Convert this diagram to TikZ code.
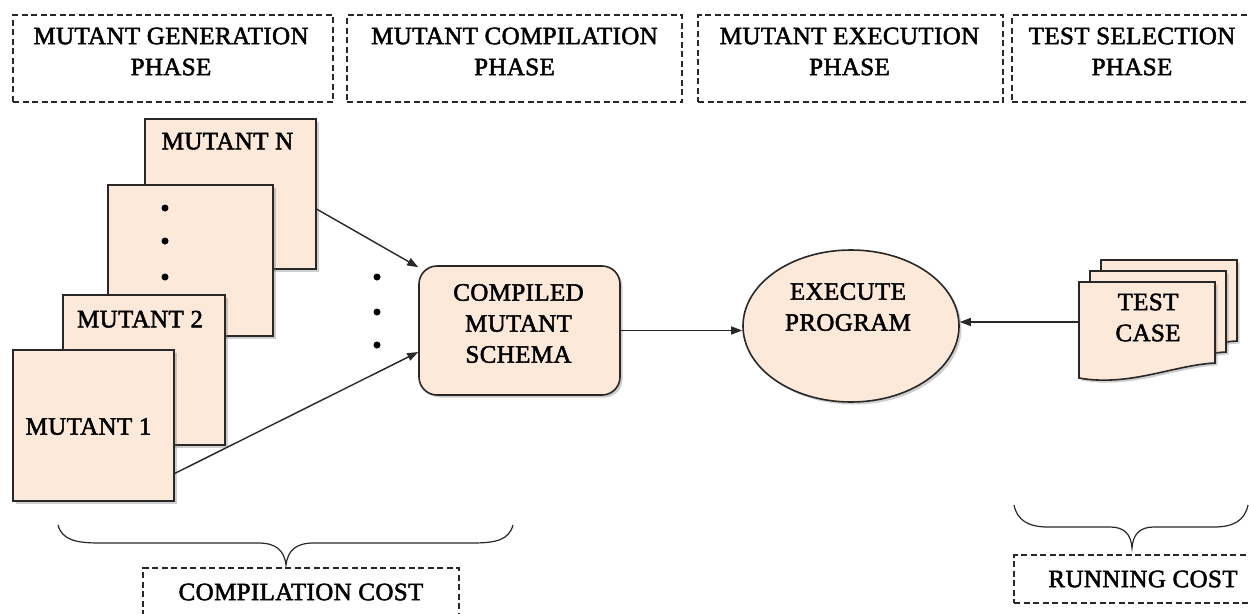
\documentclass[tikz,border=0pt]{standalone}
\usepackage{fontspec}
\setmainfont{Liberation Serif}
\newfontfamily\labelfont{Liberation Serif}[FakeBold=2, LetterSpace=1.5]
\usetikzlibrary{arrows.meta,shadows,calc,shapes.geometric}
\definecolor{peach}{RGB}{253,233,217}
\definecolor{edge}{RGB}{40,40,40}

% one paper of the "test case" stack; #1,#2 = top-left corner
\newcommand{\docsheet}[2]{%
  \path[card] (#1,#2) -- ++(136,0) -- ++(0,81)
    .. controls ++(-41,2) and ($(#1,#2)+(50,105)$) .. ($(#1,#2)+(0,96)$) -- cycle;}

\begin{document}
\begin{tikzpicture}[x=1pt,y=-1pt,
  every node/.style={font=\labelfont\fontsize{25}{31}\selectfont, text=black, align=center},
  phase/.style={draw=edge, line width=1.1pt, dash pattern=on 6pt off 3.5pt, inner sep=0pt},
  shade/.style={drop shadow={shadow xshift=2.5pt, shadow yshift=-2.5pt, opacity=0.35, fill=black!55}},
  card/.style={draw=edge, fill=peach, line width=1.6pt, inner sep=0pt, shade},
  link/.style={draw=edge, line width=1.4pt, -{Triangle[length=11pt,width=8pt]}},
  dot/.style={circle, fill=black, inner sep=0pt, minimum size=7pt},
  brace/.style={draw=edge, line width=1.2pt},
]
\useasboundingbox (0,0) rectangle (1249,613);
\fill[white] (0,0) rectangle (1249,613);

% phase headers
\node[phase, minimum width=320pt, minimum height=87pt] (p1) at (173,58.5) {};
\node[phase, minimum width=335pt, minimum height=87pt] (p2) at (514.5,58.5) {};
\node[phase, minimum width=305pt, minimum height=87pt] (p3) at (850.5,58.5) {};
\node[phase, minimum width=240pt, minimum height=87pt] (p4) at (1132,58.5) {};
\node (t1) at ($(p1.center)+(-2,-7)$) {MUTANT GENERATION\\PHASE};
\node (t2) at ($(p2.center)+(0,-7)$) {MUTANT COMPILATION\\PHASE};
\node (t3) at ($(p3.center)+(-1,-7)$) {MUTANT EXECUTION\\PHASE};
\node (t4) at ($(p4.center)+(0,-7)$) {TEST SELECTION\\PHASE};

% stack of mutants, back to front
\node[card, minimum width=171pt, minimum height=150pt] (mN) at (230.5,194) {};
\node (tN) at ($(mN.north)+(-3,23)$) {MUTANT N};
\node[card, minimum width=165pt, minimum height=151pt] (mD) at (190.5,260.5) {};
\node[dot] (d1) at (165,208) {};
\node[dot] (d2) at (165,241) {};
\node[dot] (d3) at (165,277) {};
\node[card, minimum width=162pt, minimum height=150pt] (m2) at (144,370) {};
\node (t2m) at ($(m2.north)+(-4,25)$) {MUTANT 2};
\node[card, minimum width=161pt, minimum height=151pt] (m1) at (93.5,425.5) {};
\node (t1m) at ($(m1.center)+(-5,1)$) {MUTANT 1};

% gap between the two arrows
\node[dot] (g1) at (377,277) {};
\node[dot] (g2) at (377,312) {};
\node[dot] (g3) at (377,345) {};

% compiled schema
\node[card, rounded corners=18pt, minimum width=201pt, minimum height=129pt] (schema) at (519.5,330.5) {};
\node (ts) at ($(schema.center)+(-1,-7)$) {COMPILED\\MUTANT\\SCHEMA};

% execution
\node[card, ellipse, minimum width=216pt, minimum height=152pt] (exec) at (851,326) {};
\node (te) at ($(exec.center)+(-3,-19)$) {EXECUTE\\PROGRAM};

% test cases
\docsheet{1101}{260}
\docsheet{1090}{271}
\docsheet{1079}{282}
\node (tc) at (1148,317.5) {TEST\\CASE};
\coordinate (tcin) at (1079,322);

% connectors
\draw[link] ($(mN.north east)!0.6!(mN.south east)$) -- ($(schema.west)!0.97!(schema.north west)$);
\draw[link] ($(m1.north east)!0.814!(m1.south east)$) -- ($(schema.west)!0.33!(schema.south west)$);
\draw[link] (schema.east) -- (schema.east -| exec.west);
\draw[link] (tcin) -- (tcin -| exec.east);

% cost braces
\draw[brace] (58,525) .. controls (62,540) and (76,543) .. (100,543) -- (258,543)
  .. controls (276,543) and (284,550) .. (286,565)
  .. controls (288,550) and (296,543) .. (314,543) -- (472,543)
  .. controls (496,543) and (509,540) .. (513,525);
\draw[brace] (1014,505) .. controls (1017,520) and (1028,527) .. (1048,527) -- (1110,527)
  .. controls (1124,527) and (1131,534) .. (1132,548)
  .. controls (1133,534) and (1140,527) .. (1154,527) -- (1214,527)
  .. controls (1234,527) and (1245,520) .. (1248,505);

% cost labels
\node[phase, minimum width=316pt, minimum height=48pt] (cc) at (301,592) {};
\node (tcc) at (cc.center) {COMPILATION COST};
\node[phase, minimum width=258pt, minimum height=48pt] (rc) at (1143,579) {};
\node (trc) at (rc.center) {RUNNING COST};
\end{tikzpicture}
\end{document}
